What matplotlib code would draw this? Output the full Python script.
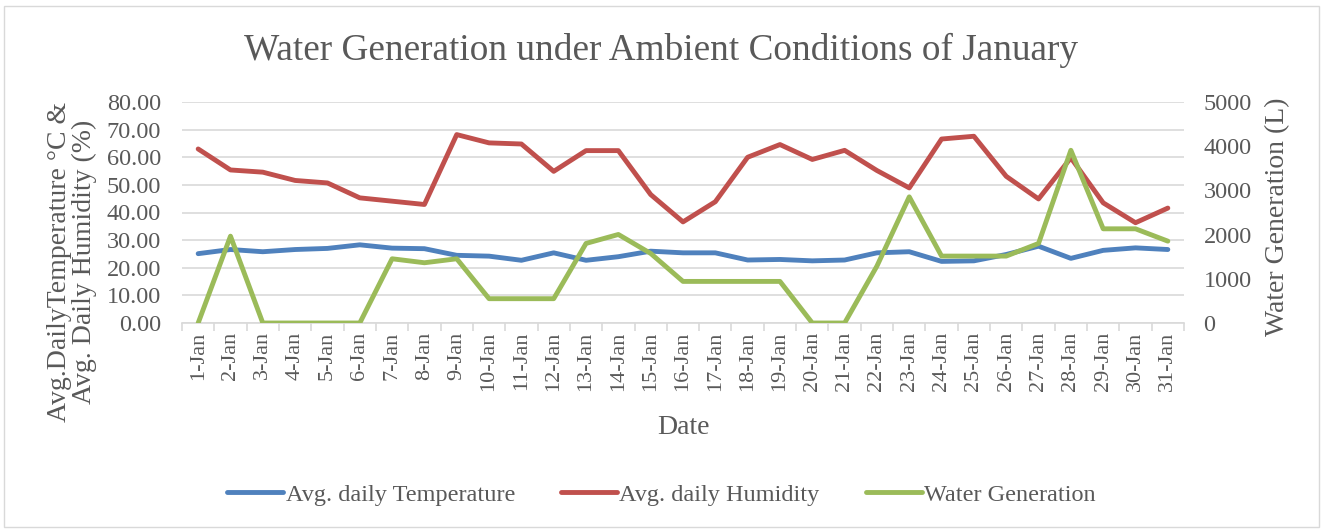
import matplotlib
matplotlib.use("Agg")
from matplotlib import pyplot as plt
from matplotlib.patches import Rectangle
import numpy as np

days = [f"{d}-Jan" for d in range(1, 32)]
temperature = [25.1, 26.6, 25.8, 26.6, 27.0, 28.3, 27.1, 26.9, 24.5, 24.2, 22.7,
               25.4, 22.7, 24.0, 26.0, 25.4, 25.4, 22.8, 23.0, 22.5, 22.8,
               25.4, 25.8, 22.3, 22.5, 24.8, 27.8, 23.4, 26.3, 27.2, 26.6]
humidity = [63.0, 55.4, 54.6, 51.6, 50.7, 45.3, 44.1, 42.9, 68.2, 65.2, 64.8,
            54.9, 62.4, 62.4, 46.5, 36.6, 43.9, 60.0, 64.6, 59.2, 62.5,
            55.2, 48.9, 66.6, 67.6, 53.1, 44.9, 59.8, 43.5, 36.3, 41.6]
water = [0, 1965, 0, 0, 0, 0, 1453, 1363, 1453, 550, 550,
         550, 1800, 2003, 1574, 941, 941, 941, 941, 0, 0,
         1288, 2854, 1514, 1514, 1514, 1800, 3908, 2131, 2131, 1852]

txt = '#595959'
grid_c = '#d9d9d9'
plt.rcParams['font.family'] = ['Liberation Serif', 'DejaVu Serif']

W, H = 1323, 531
fig = plt.figure(figsize=(W / 100, H / 100), dpi=100)
fig.patches.append(Rectangle((0.003, 0.008), 0.994, 0.98, transform=fig.transFigure,
                             fill=False, edgecolor='#d9d9d9', lw=1))
ax = fig.add_axes([182 / W, 1 - 323 / H, (1184 - 182) / W, (323 - 102) / H])
ax2 = ax.twinx()

x = np.arange(len(days))
lw = 3.5
ax.plot(x, temperature, color='#4F81BD', lw=lw, solid_capstyle='round', label='Avg. daily Temperature')
ax.plot(x, humidity, color='#C0504D', lw=lw, solid_capstyle='round', label='Avg. daily Humidity')
ax2.plot(x, water, color='#9BBB59', lw=lw, solid_capstyle='round', label='Water Generation')

ax.set_xlim(-0.5, len(days) - 0.5)
ax.set_ylim(0, 80)
ax2.set_ylim(0, 5000)
ax.set_yticks(np.arange(0, 81, 10))
ax.set_yticklabels([f"{v:.2f}" for v in np.arange(0, 81, 10)])
ax2.set_yticks(np.arange(0, 5001, 1000))
ax.yaxis.grid(True, color=grid_c, lw=1.2)
ax.set_axisbelow(True)

ax.set_xticks(x)
ax.set_xticklabels(days, rotation=90)
ax.set_xticks(np.arange(-0.5, len(days), 1), minor=True)
ax.tick_params(axis='x', which='major', length=0, pad=6, labelsize=16, colors=txt)
ax.tick_params(axis='x', which='minor', length=6, color=grid_c, width=1.2)
ax.tick_params(axis='y', length=0, labelsize=17.5, colors=txt, pad=15)
ax2.tick_params(axis='y', length=0, labelsize=17.5, colors=txt, pad=14)

for a in (ax, ax2):
    for s in a.spines.values():
        s.set_visible(False)
ax.spines['bottom'].set_visible(True)
ax.spines['bottom'].set_color(grid_c)
ax.spines['bottom'].set_linewidth(1.2)

fig.text(72 / W, 1 - 262 / H, "Avg.DailyTemperature °C &\nAvg. Daily Humidity (%)",
         rotation=90, ha='center', va='center', fontsize=20, color=txt, linespacing=1.0)
fig.text(1278 / W, 1 - 217 / H, "Water Generation (L)", rotation=90,
         ha='center', va='center', fontsize=20, color=txt)
fig.text(683 / W, 1 - 427 / H, "Date", ha='center', va='center', fontsize=20, color=txt)
fig.text(0.5, 1 - 50 / H, "Water Generation under Ambient Conditions of January",
         ha='center', va='center', fontsize=26.8, color=txt)

h1, l1 = ax.get_legend_handles_labels()
h2, l2 = ax2.get_legend_handles_labels()
fig.legend(h1 + h2, l1 + l2, loc='center', bbox_to_anchor=(0.5, 1 - 495 / H), ncol=3,
           frameon=False, fontsize=17.5, labelcolor=txt, handlelength=2.3,
           handletextpad=0.1, columnspacing=1.9)

fig.savefig('out.png', dpi=100)
